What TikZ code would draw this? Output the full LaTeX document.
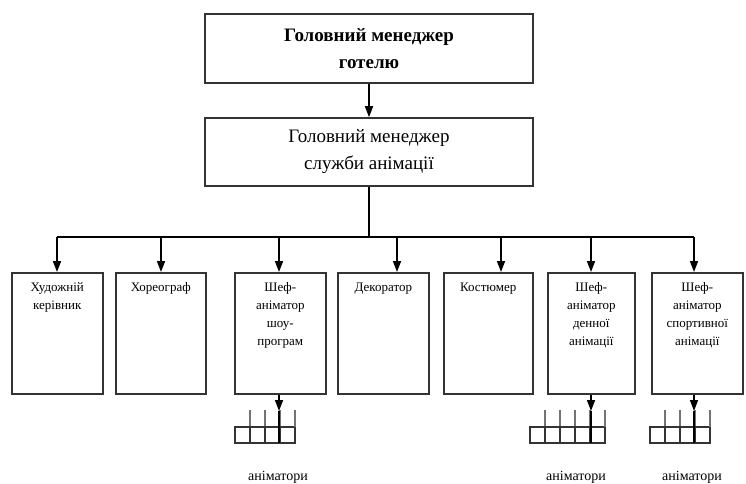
\documentclass[tikz,border=0pt]{standalone}
\usepackage{fontspec}
\setmainfont{Liberation Serif}
\usetikzlibrary{arrows.meta,calc}
\newcommand{\stafftext}[2]{\parbox[c][121pt][t]{#1pt}{\vspace{10pt}\centering #2}}

\begin{document}
\begin{tikzpicture}[x=1pt,y=-1pt,
  box/.style={draw=black!80,line width=1.6pt,inner sep=0pt,align=center},
  headfont/.style={font=\fontsize{19}{27}\selectfont},
  staff/.style={box,anchor=north west,minimum height=121pt,font=\fontsize{13}{18}\selectfont},
  link/.style={line width=1.6pt,-{Triangle[width=8pt,length=11pt]}},
  wire/.style={line width=1.6pt},
  cell/.style={draw=black!80,line width=1.3pt}]
\useasboundingbox (0,0) rectangle (746,483);
\node[box,font=\fontsize{19}{27}\selectfont\bfseries,minimum width=328pt,minimum height=69pt] (hotel) at (369,48.5) {Головний менеджер\\готелю};
\node[box,headfont,minimum width=328pt,minimum height=68pt] (anim) at (369,152) {Головний менеджер\\служби анімації};
\draw[link] (hotel) -- (anim);
% staff boxes
\node[staff] (khud) at (11,272) {\stafftext{91}{Художній\\керівник}};
\node[staff] (khor) at (115,272) {\stafftext{90}{Хореограф}};
\node[staff] (shou) at (234,272) {\stafftext{91}{Шеф-\\аніматор\\шоу-\\програм}};
\node[staff] (dek) at (337,272) {\stafftext{91}{Декоратор}};
\node[staff] (kost) at (443,272) {\stafftext{89}{Костюмер}};
\node[staff] (den) at (547,272) {\stafftext{87}{Шеф-\\аніматор\\денної\\анімації}};
\node[staff] (sport) at (651,272) {\stafftext{91}{Шеф-\\аніматор\\спортивної\\анімації}};
% bar
\coordinate (hub) at (369,237);
\draw[wire] (anim) -- (hub);
\foreach \n/\x in {khud/57,khor/161,shou/279,dek/397,kost/501,den/591,sport/694}{
  \coordinate (top-\n) at (\x,237);
  \draw[link] (top-\n) -- (top-\n |- \n.north);
}
\draw[wire] (top-khud) -- (top-sport);
% animators
\foreach \n/\x/\k/\l in {shou/235/4/278,den/530/5/576,sport/650/4/692}{
  \foreach \i in {1,...,\k}{
    \draw[cell] (\x+15*\i-15,427) rectangle ++(15,16);
    \draw[cell,black!55] (\x+15*\i,410) -- ++(0,17);
  }
  \coordinate (stem-\n) at ($(top-\n)+(0,174)$);
  \draw[link] (\n.south -| top-\n) -- (stem-\n);
  \draw[wire] (stem-\n) -- ++(0,32);
  \node[font=\fontsize{14}{16}\selectfont] (lbl-\n) at (\l,477) {аніматори};
}
\end{tikzpicture}
\end{document}
